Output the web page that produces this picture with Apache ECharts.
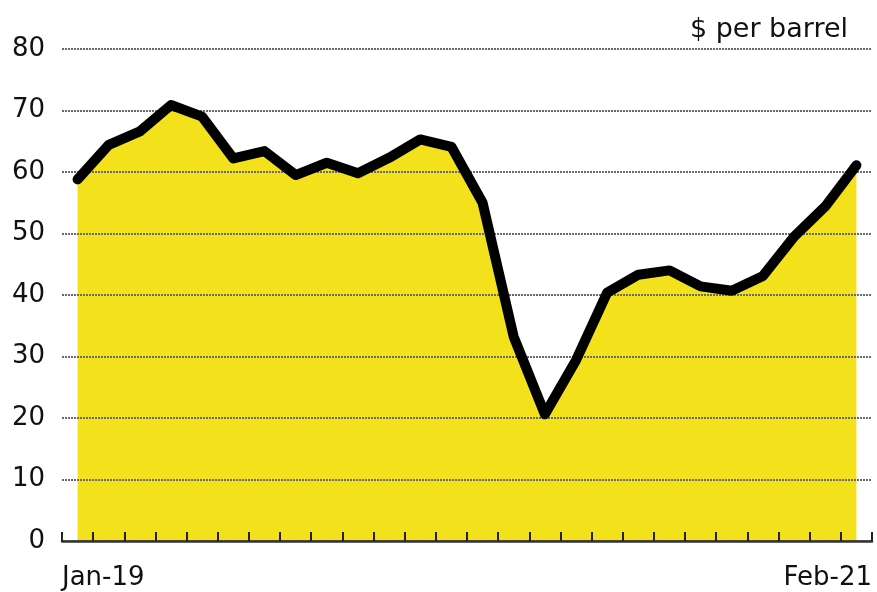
<!DOCTYPE html>
<html>
<head>
<meta charset="utf-8">
<style>
  html, body { margin: 0; padding: 0; background: #ffffff; }
  #chart { width: 877px; height: 592px; }
</style>
<script src="https://cdn.jsdelivr.net/npm/echarts@6/dist/echarts.min.js"></script>
</head>
<body>
<div id="chart"></div>
<script>
// Monthly crude oil price, Jan 2019 – Feb 2021
const months = [
  'Jan-19','Feb-19','Mar-19','Apr-19','May-19','Jun-19','Jul-19','Aug-19','Sep-19',
  'Oct-19','Nov-19','Dec-19','Jan-20','Feb-20','Mar-20','Apr-20','May-20','Jun-20',
  'Jul-20','Aug-20','Sep-20','Oct-20','Nov-20','Dec-20','Jan-21','Feb-21'
];
const prices = [
  58.8, 64.4, 66.6, 70.9, 69.0, 62.2, 63.4, 59.5, 61.5,
  59.8, 62.3, 65.3, 64.1, 55.0, 33.2, 20.6, 29.4, 40.4,
  43.3, 44.0, 41.4, 40.7, 43.1, 49.5, 54.4, 61.1
];
const yTicks = [0, 10, 20, 30, 40, 50, 60, 70, 80];
const unitLabel = '$ per barrel';

const FONT = '"DejaVu Sans", "Open Sans", sans-serif';
const chart = echarts.init(document.getElementById('chart'), null, { renderer: 'canvas' });

chart.setOption({
  animation: false,
  backgroundColor: '#ffffff',
  grid: { left: 62, right: 5, top: 49, bottom: 51, containLabel: false },
  graphic: [
    {
      type: 'text', right: 29, top: 16,
      style: { text: unitLabel, fontFamily: FONT, fontSize: 27, fill: '#111' }
    },
    {
      type: 'text', left: 62, top: 565,
      style: { text: months[0], fontFamily: FONT, fontSize: 26, fill: '#111' }
    },
    {
      type: 'text', right: 5, top: 565,
      style: { text: months[months.length - 1], fontFamily: FONT, fontSize: 26, fill: '#111' }
    }
  ],
  xAxis: {
    type: 'category',
    data: months,
    boundaryGap: true,
    z: 2,
    axisLine: { show: true, lineStyle: { color: '#333', width: 2.5 } },
    axisTick: { show: true, inside: true, length: 9, interval: 0,
                lineStyle: { color: '#222', width: 2 } },
    axisLabel: { show: false, interval: 0 },
    splitLine: { show: false }
  },
  yAxis: {
    type: 'value',
    min: yTicks[0],
    max: yTicks[yTicks.length - 1],
    interval: 10,
    z: 2,
    axisLine: { show: false },
    axisTick: { show: false },
    axisLabel: {
      margin: 17,
      fontFamily: FONT, fontSize: 26, color: '#111',
      formatter: v => yTicks.includes(v) ? String(v) : ''
    },
    splitLine: {
      show: true,
      lineStyle: { type: [2, 1], color: '#6a6a6a', width: 2 }
    }
  },
  series: [
    {
      // yellow fill under the price line
      type: 'line',
      data: prices,
      symbol: 'none',
      lineStyle: { width: 0, opacity: 0 },
      areaStyle: { color: '#F2E11B', opacity: 1, origin: 'start' },
      z: 1
    },
    {
      // price line drawn above the gridlines
      type: 'line',
      data: prices,
      symbol: 'none',
      lineStyle: { color: '#000', width: 10, join: 'round', cap: 'round' },
      z: 3
    }
  ]
});
</script>
</body>
</html>
